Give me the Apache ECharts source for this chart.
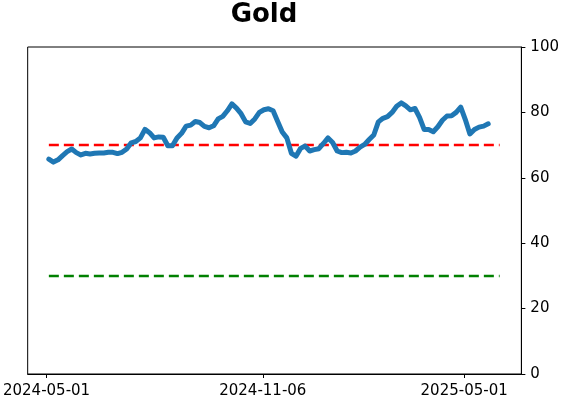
<!DOCTYPE html>
<html>
<head>
<meta charset="utf-8">
<script src="https://cdn.jsdelivr.net/npm/echarts@6/dist/echarts.min.js"></script>
<style>html,body{margin:0;padding:0;background:#fff}#c{width:562px;height:402px}</style>
</head>
<body>
<div id="c"></div>
<script>
var title = "Gold";
var startDate = "2024-05-03";
var stepDays = 4;
var values = [65.7,64.8,65.5,66.8,68.0,68.8,67.7,67.0,67.5,67.3,67.5,67.6,67.6,67.8,67.8,67.4,67.8,68.8,70.7,71.1,
72.2,74.8,73.8,72.2,72.5,72.4,69.8,69.8,72.2,73.6,75.8,76.1,77.2,76.9,75.7,75.3,75.9,78.0,78.8,80.5,
82.6,81.3,79.6,77.1,76.6,78.0,80.0,80.8,81.1,80.5,77.2,74.0,72.2,67.5,66.6,69.0,69.7,68.2,68.6,68.9,
70.5,72.2,70.8,68.2,67.7,67.8,67.6,68.2,69.4,70.2,71.7,73.1,77.1,78.2,78.7,80.0,81.9,82.9,82.0,80.8,
81.2,78.5,74.8,74.8,74.1,75.6,77.6,78.9,79.0,80.0,81.6,77.8,73.4,74.8,75.5,75.8,76.5];
var refLineDates = ["2024-05-03", "2025-06-01"];
var upperLevel = 70;
var lowerLevel = 30;
var xTickLabels = ["2024-05-01", "2024-11-06", "2025-05-01"];
var xMin = "2024-04-14T12:00:00Z";
var xMax = "2025-06-20T00:00:00Z";

var DAY = 86400000;
function ts(s) { return new Date(s + "T00:00:00Z").getTime(); }
var t0 = ts(startDate);
var lineData = values.map(function (v, i) { return [t0 + i * stepDays * DAY, v]; });
var tickTs = xTickLabels.map(ts);
function fmt(v) {
  var d = new Date(v); var m = d.getUTCMonth() + 1, dd = d.getUTCDate();
  return d.getUTCFullYear() + '-' + (m < 10 ? '0' : '') + m + '-' + (dd < 10 ? '0' : '') + dd;
}

var chart = echarts.init(document.getElementById('c'), null, {renderer: 'canvas'});
chart.setOption({
  animation: false,
  backgroundColor: '#ffffff',
  title: {
    text: title, left: 259, top: -3, textAlign: 'center',
    textStyle: {fontFamily: 'DejaVu Sans', fontWeight: 'bold', fontSize: 26, color: '#000'}
  },
  grid: {left: 26, right: 40, top: 47, bottom: 28, show: true, borderColor: '#000', borderWidth: 1, backgroundColor: 'transparent'},
  xAxis: {
    type: 'value',
    min: new Date(xMin).getTime(),
    max: new Date(xMax).getTime(),
    splitLine: {show: false},
    axisLine: {show: true, lineStyle: {color: '#000', width: 1}},
    axisTick: {show: true, customValues: tickTs, length: 4, lineStyle: {color: '#000'}},
    axisLabel: {
      customValues: tickTs, color: '#000', fontFamily: 'DejaVu Sans', fontSize: 15, margin: 10,
      formatter: fmt, hideOverlap: false
    }
  },
  yAxis: {
    type: 'value', position: 'right', min: 0, max: 100, interval: 20,
    splitLine: {show: false},
    axisLine: {show: true, lineStyle: {color: '#000', width: 1}},
    axisTick: {show: true, length: 4, lineStyle: {color: '#000'}},
    axisLabel: {color: '#000', fontFamily: 'DejaVu Sans', fontSize: 15, margin: 9}
  },
  series: [
    {
      type: 'line', data: lineData, showSymbol: false, symbol: 'none',
      lineStyle: {color: '#1f77b4', width: 5, cap: 'round', join: 'round'}, z: 3
    },
    {
      type: 'line', data: refLineDates.map(function (d) { return [ts(d), upperLevel]; }), showSymbol: false, symbol: 'none',
      lineStyle: {color: '#ff0000', width: 2.5, type: [10, 5]}, z: 2
    },
    {
      type: 'line', data: refLineDates.map(function (d) { return [ts(d), lowerLevel]; }), showSymbol: false, symbol: 'none',
      lineStyle: {color: '#008000', width: 2.5, type: [10, 5]}, z: 2
    }
  ]
});
</script>
</body>
</html>
